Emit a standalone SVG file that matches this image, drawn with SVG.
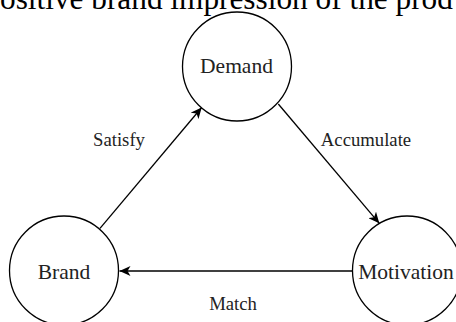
<svg xmlns="http://www.w3.org/2000/svg" width="456" height="322" viewBox="0 0 456 322">
<style>
.node circle{fill:#fff;stroke:#000;stroke-width:1.3}
.node text{font-family:"Liberation Serif","Times New Roman",serif;font-size:21.5px;fill:#222;text-anchor:middle}
.lbl{font-family:"Liberation Serif","Times New Roman",serif;font-size:18.7px;fill:#222;text-anchor:middle}
.edge{stroke:#000;stroke-width:1.3;fill:none;marker-end:url(#arr)}
.title{font-family:"Liberation Serif","Times New Roman",serif;font-size:31.3px;fill:#000}
</style>
<defs>
<marker id="arr" markerUnits="userSpaceOnUse" markerWidth="12" markerHeight="10" viewBox="0 0 12 10" refX="11" refY="5" orient="auto">
<path d="M0,0 L11,5 L0,10 L3,5 Z" fill="#000"/>
</marker>
</defs>
<rect width="456" height="322" fill="#fff"/>
<text class="title" x="0" y="9">ositive brand impression of the prod</text>
<g id="connectors">
<line class="edge" x1="100" y1="228.3" x2="201.7" y2="107.5"/>
<line class="edge" x1="278.3" y1="104" x2="379.3" y2="223.3"/>
<line class="edge" x1="352.5" y1="271" x2="119.5" y2="271"/>
<text class="lbl" x="119" y="146">Satisfy</text>
<text class="lbl" x="366" y="146">Accumulate</text>
<text class="lbl" x="233" y="310">Match</text>
</g>
<g id="demand" class="node">
<circle cx="237" cy="66.5" r="54.5"/>
<text x="236.5" y="73.3">Demand</text>
</g>
<g id="brand" class="node">
<circle cx="64" cy="270.5" r="54.5"/>
<text x="64" y="279">Brand</text>
</g>
<g id="motivation" class="node">
<circle cx="407" cy="270.5" r="54.5"/>
<text x="406" y="278.5">Motivation</text>
</g>
</svg>
